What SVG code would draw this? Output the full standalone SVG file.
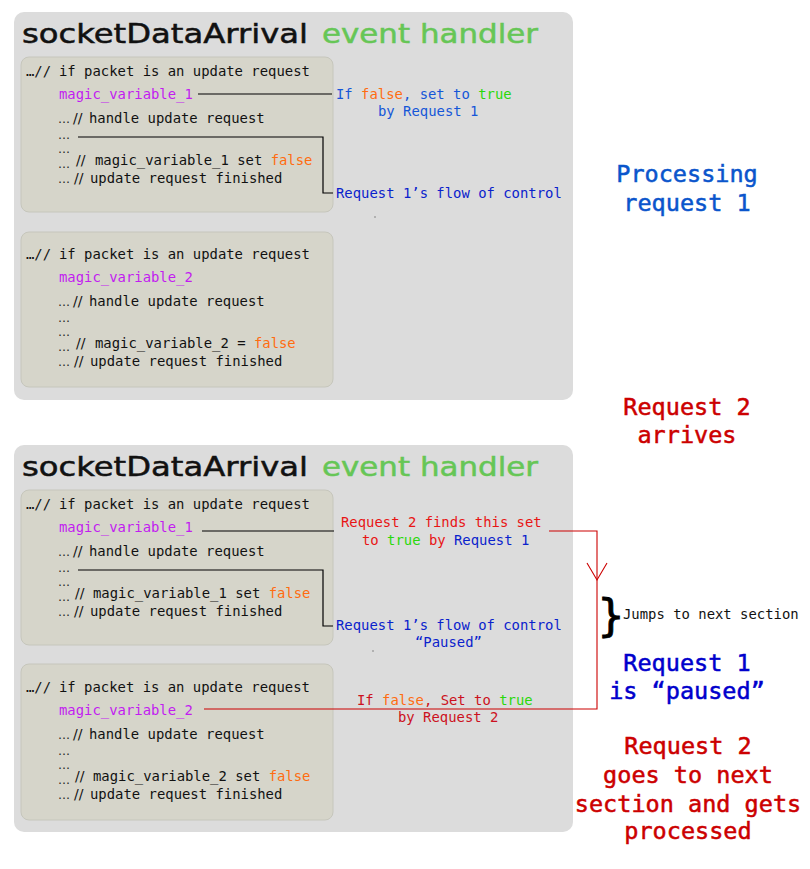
<svg xmlns="http://www.w3.org/2000/svg" width="810" height="869" viewBox="0 0 810 869">
<style>
.panel{fill:#dcdcdc}
.box{fill:#d6d5ca;stroke:#c6c6bc;stroke-width:1}
.hdr{font-family:"DejaVu Sans",sans-serif;font-size:27px;fill:#111;stroke:#111;stroke-width:0.5}
.grn{fill:#66c656;stroke:#66c656}
.code{font-family:"DejaVu Sans Mono",monospace;font-size:13.9px;fill:#111}
.dots{font-family:"DejaVu Sans",sans-serif;font-size:12px;fill:#222}
.sl{font-family:"DejaVu Sans",sans-serif;font-size:14px;fill:#111}
.mv{fill:#c21cf0}
.f{fill:#ff6c10}
.t{fill:#2ad80a}
.b1{fill:#1556d8}
.b2{fill:#0a22cc}
.r1{fill:#e81414}
.r2{fill:#cc1020}
.big{font-family:"DejaVu Sans Mono",monospace;font-size:23.5px;text-anchor:middle;stroke-width:0.5}
.blk{fill:none;stroke:#000;stroke-width:1.2}
.red{fill:none;stroke:#cc0000;stroke-width:1.1}
</style>
<rect width="810" height="869" fill="#ffffff"/>

<g id="panel1">
  <rect class="panel" x="14" y="12" width="559" height="388" rx="10"/>
  <text class="hdr" x="22" y="43" textLength="286" lengthAdjust="spacingAndGlyphs">socketDataArrival</text>
  <text class="hdr grn" x="322" y="43" textLength="216" lengthAdjust="spacingAndGlyphs">event handler</text>
</g>

<g id="box1">
  <rect class="box" x="21" y="57" width="312" height="155" rx="8"/>
  <text class="code" x="26" y="76">…//</text>
  <text class="code" x="59" y="76">if packet is an update request</text>
  <text class="code mv" x="59" y="99">magic_variable_1</text>
  <text class="dots" x="58" y="123">…</text><text class="sl" x="73" y="123">//</text>
  <text class="code" x="89" y="123">handle update request</text>
  <text class="dots" x="58" y="139">…</text>
  <text class="dots" x="58" y="153">…</text>
  <text class="dots" x="58" y="168">…</text><text class="sl" x="76" y="165">//</text>
  <text class="code" x="95" y="165">magic_variable_1 set <tspan class="f">false</tspan></text>
  <text class="dots" x="58" y="183">…</text><text class="sl" x="74" y="183">//</text>
  <text class="code" x="90" y="183">update request finished</text>
</g>

<g id="box2">
  <rect class="box" x="21" y="232" width="312" height="155" rx="8"/>
  <text class="code" x="26" y="259">…//</text>
  <text class="code" x="59" y="259">if packet is an update request</text>
  <text class="code mv" x="59" y="282">magic_variable_2</text>
  <text class="dots" x="58" y="306">…</text><text class="sl" x="73" y="306">//</text>
  <text class="code" x="89" y="306">handle update request</text>
  <text class="dots" x="58" y="322">…</text>
  <text class="dots" x="58" y="336">…</text>
  <text class="dots" x="58" y="351">…</text><text class="sl" x="76" y="348">//</text>
  <text class="code" x="95" y="348">magic_variable_2 = <tspan class="f">false</tspan></text>
  <text class="dots" x="58" y="366">…</text><text class="sl" x="74" y="366">//</text>
  <text class="code" x="90" y="366">update request finished</text>
</g>

<g id="panel2">
  <rect class="panel" x="14" y="445" width="559" height="387" rx="10"/>
  <text class="hdr" x="22" y="476" textLength="286" lengthAdjust="spacingAndGlyphs">socketDataArrival</text>
  <text class="hdr grn" x="322" y="476" textLength="216" lengthAdjust="spacingAndGlyphs">event handler</text>
</g>

<g id="box3">
  <rect class="box" x="21" y="490" width="312" height="155" rx="8"/>
  <text class="code" x="26" y="509">…//</text>
  <text class="code" x="59" y="509">if packet is an update request</text>
  <text class="code mv" x="59" y="532">magic_variable_1</text>
  <text class="dots" x="58" y="556">…</text><text class="sl" x="73" y="556">//</text>
  <text class="code" x="89" y="556">handle update request</text>
  <text class="dots" x="58" y="572">…</text>
  <text class="dots" x="58" y="586">…</text>
  <text class="dots" x="58" y="601">…</text><text class="sl" x="75" y="598">//</text>
  <text class="code" x="93" y="598">magic_variable_1 set <tspan class="f">false</tspan></text>
  <text class="dots" x="58" y="616">…</text><text class="sl" x="74" y="616">//</text>
  <text class="code" x="90" y="616">update request finished</text>
</g>

<g id="box4">
  <rect class="box" x="21" y="664" width="312" height="156" rx="8"/>
  <text class="code" x="26" y="692">…//</text>
  <text class="code" x="59" y="692">if packet is an update request</text>
  <text class="code mv" x="59" y="715">magic_variable_2</text>
  <text class="dots" x="58" y="739">…</text><text class="sl" x="73" y="739">//</text>
  <text class="code" x="89" y="739">handle update request</text>
  <text class="dots" x="58" y="755">…</text>
  <text class="dots" x="58" y="769">…</text>
  <text class="dots" x="58" y="784">…</text><text class="sl" x="75" y="781">//</text>
  <text class="code" x="93" y="781">magic_variable_2 set <tspan class="f">false</tspan></text>
  <text class="dots" x="58" y="799">…</text><text class="sl" x="74" y="799">//</text>
  <text class="code" x="90" y="799">update request finished</text>
</g>

<g id="connectors">
  <line class="blk" x1="198" y1="94" x2="332" y2="94"/>
  <polyline class="blk" points="78,137 323,137 323,193 333,193"/>
  <line class="blk" x1="202" y1="531" x2="334" y2="531"/>
  <polyline class="blk" points="78,570 323,570 323,626 333,626"/>
  <polyline class="red" points="549,531 597,531 597,709 204,709"/>
  <polyline class="red" points="587,563 597,580 607,563"/>
</g>

<g id="labels">
  <text class="code b1" x="336" y="99">If <tspan class="f">false</tspan>, set to <tspan class="t">true</tspan></text>
  <text class="code b1" x="378" y="116">by Request 1</text>
  <text class="code b2" x="336" y="198">Request 1’s flow of control</text>
  <text class="code r1" x="341" y="527">Request 2 finds this set</text>
  <text class="code r1" x="362" y="545">to <tspan class="t">true</tspan> by <tspan class="b2">Request 1</tspan></text>
  <text class="code b2" x="336" y="630">Request 1’s flow of control</text>
  <text class="code b2" x="415" y="647">“Paused”</text>
  <text class="code r2" x="357" y="705">If <tspan class="f">false</tspan>, Set to <tspan class="t">true</tspan></text>
  <text class="code r2" x="398" y="722">by Request 2</text>
  <text x="597" y="631" font-family="DejaVu Sans, sans-serif" font-size="44" fill="#000" stroke="#000" stroke-width="0.8">}</text>
  <text class="code" x="623" y="619" font-size="13.5">Jumps to next section</text>
  <text class="big" x="687" y="182" fill="#0a55cc" stroke="#0a55cc">Processing</text>
  <text class="big" x="687" y="211" fill="#0a55cc" stroke="#0a55cc">request 1</text>
  <text class="big" x="687" y="415" fill="#cc0000" stroke="#cc0000">Request 2</text>
  <text class="big" x="687" y="443" fill="#cc0000" stroke="#cc0000">arrives</text>
  <text class="big" x="687" y="671" fill="#0000cc" stroke="#0000cc">Request 1</text>
  <text class="big" x="687" y="699" fill="#0000cc" stroke="#0000cc">is “paused”</text>
  <text class="big" x="688" y="754" fill="#cc0000" stroke="#cc0000">Request 2</text>
  <text class="big" x="688" y="783" fill="#cc0000" stroke="#cc0000">goes to next</text>
  <text class="big" x="688" y="812" fill="#cc0000" stroke="#cc0000">section and gets</text>
  <text class="big" x="688" y="839" fill="#cc0000" stroke="#cc0000">processed</text>
  <rect x="374.5" y="216.5" width="1" height="1" fill="#333"/>
  <rect x="372.5" y="650.5" width="1" height="1" fill="#333"/>
</g>
</svg>
